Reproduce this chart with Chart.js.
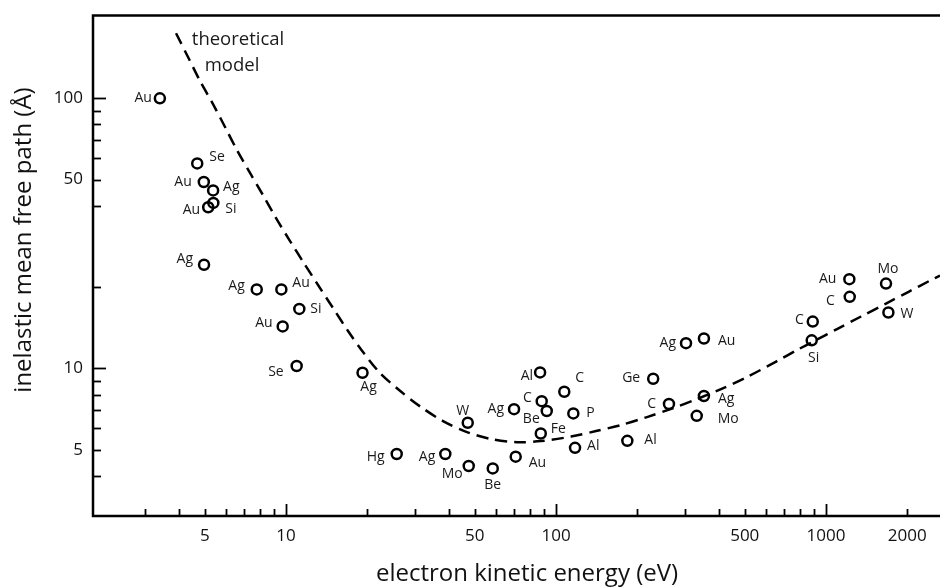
<!DOCTYPE html>
<html>
<head>
<meta charset="utf-8">
<title>Inelastic mean free path</title>
<script src="https://cdn.jsdelivr.net/npm/chart.js@4.4.1/dist/chart.umd.min.js"></script>
<style>
    html, body { margin: 0; padding: 0; background: #fff; }
    canvas { display: block; }
</style>
</head>
<body>
<canvas id="imfpChart" width="940" height="587"></canvas>
<script>
// ====== Measured points (energy in eV, IMFP in Å) ======
const elements = ["Au", "Se", "Au", "Ag", "Au", "Si", "Ag", "Ag", "Au", "Si",
    "Au", "Se", "Ag", "W", "Hg", "Ag", "Mo", "Be", "Au", "Ag",
    "Al", "C", "Be", "Fe", "C", "P", "Al", "Al", "Ge", "C",
    "Ag", "Au", "Ag", "Mo", "Au", "Mo", "C", "W", "C", "Si"];
const energy = [3.41, 4.69, 4.96, 5.37, 5.15, 5.38, 4.97, 7.79, 9.61, 11.2,
    9.72, 10.95, 19.2, 47.1, 25.7, 38.9, 47.5, 58.3, 70.9, 69.9,
    87.3, 88.5, 92.4, 87.8, 107.3, 115.9, 117.6, 183.7, 229, 262,
    303, 353, 353, 332, 1220, 1668, 1224, 1702, 893, 885];
const imfp = [100, 57.4, 49, 45.6, 39.5, 41, 24.2, 19.6, 19.6, 16.6,
    14.3, 10.2, 9.63, 6.29, 4.82, 4.82, 4.35, 4.26, 4.71, 7.06,
    9.66, 7.56, 6.95, 5.74, 8.19, 6.81, 5.08, 5.39, 9.15, 7.38,
    12.4, 12.9, 7.9, 6.67, 21.4, 20.6, 18.4, 16.1, 14.9, 12.7];

// ====== Theoretical model curve ======
const modelEnergy = [3.914, 4.335, 4.803, 5.366, 5.944, 6.584, 7.356, 8.219, 9.185, 10.35,
    11.66, 13.14, 14.93, 16.97, 19.28, 22.29, 26.22, 31.62, 38.15, 46.8,
    57.43, 71.7, 88.0, 113.7, 140.7, 174.1, 217.3, 268.9, 332.9, 408.4,
    505.5, 658.5, 774.4, 918.3, 1098, 1348, 1668, 2030, 2428, 2643];
const modelImfp = [174.1, 142.2, 115.9, 95.2, 78.3, 64.3, 52.9, 43.8, 36.0, 29.6,
    24.5, 20.35, 16.73, 13.75, 11.49, 9.61, 8.31, 7.19, 6.38, 5.81,
    5.47, 5.33, 5.38, 5.59, 5.86, 6.17, 6.60, 7.10, 7.70, 8.38,
    9.25, 10.64, 11.64, 12.73, 13.98, 15.56, 17.38, 19.25, 21.14, 22.07];

// ====== Axis ticks ======
const xTickValues = [3, 4, 5, 6, 7, 8, 9, 10, 20, 30, 40, 50, 60, 70, 80, 90,
    100, 200, 300, 400, 500, 600, 700, 800, 900, 1000, 2000];
const xTickLabels = [5, 10, 50, 100, 500, 1000, 2000];
const xMajorTicks = [10, 100, 1000];
const yTickValues = [4, 5, 6, 7, 8, 9, 10, 20, 40, 50, 60, 70, 80, 90, 100];
const yTickLabels = [5, 10, 50, 100];
const yMajorTicks = [10, 100];

const FONT = "'Open Sans', 'DejaVu Sans', sans-serif";

// label placement next to each circle: [dx, dy, align]
const labelPlacement = [
    [-8, 0, 'right'], [12, -6, 'left'], [-12, 0, 'right'], [10, -3, 'left'], [-8, 3, 'right'],
    [12, 6, 'left'], [-11, -6, 'right'], [-12, -3, 'right'], [11, -6, 'left'], [11, 0, 'left'],
    [-10, -3, 'right'], [-13, 6, 'right'], [6, 14, 'center'], [-5, -12, 'center'], [-12, 3, 'right'],
    [-10, 3, 'right'], [-6, 8, 'right'], [0, 17, 'center'], [13, 6, 'left'], [-10, 0, 'right'],
    [-7, 4, 'right'], [-10, -3, 'right'], [-7, 8, 'right'], [10, -4, 'left'], [11, -14, 'left'],
    [13, 0, 'left'], [12, -2, 'left'], [17, -1, 'left'], [-13, -1, 'right'], [-13, 0, 'right'],
    [-10, 0, 'right'], [14, 3, 'left'], [14, 3, 'left'], [21, 3, 'left'], [-13, 0, 'right'],
    [2, -15, 'center'], [-15, 4, 'right'], [12, 2, 'left'], [-9, -2, 'right'], [2, 18, 'center']
];

// ---- Frame, inward ticks and axis titles ----
const framePlugin = {
    id: 'frame',
    afterDraw(chart) {
        const {ctx, chartArea: a, scales: {x, y}} = chart;
        ctx.save();
        ctx.strokeStyle = '#000';
        ctx.lineWidth = 2.5;
        ctx.beginPath();
        ctx.moveTo(chart.width, a.top);
        ctx.lineTo(a.left, a.top);
        ctx.lineTo(a.left, a.bottom);
        ctx.lineTo(chart.width, a.bottom);
        ctx.stroke();

        ctx.lineWidth = 1.8;
        xTickValues.forEach(v => {
            const px = Math.round(x.getPixelForValue(v)) + 0.5;
            const len = xMajorTicks.includes(v) ? 12 : 7;
            ctx.beginPath();
            ctx.moveTo(px, a.bottom);
            ctx.lineTo(px, a.bottom - len);
            ctx.stroke();
        });
        yTickValues.forEach(v => {
            const py = Math.round(y.getPixelForValue(v)) + 0.5;
            const len = yMajorTicks.includes(v) ? 13 : 8;
            ctx.beginPath();
            ctx.moveTo(a.left, py);
            ctx.lineTo(a.left + len, py);
            ctx.stroke();
        });

        ctx.fillStyle = '#111';
        ctx.font = '24px ' + FONT;
        ctx.textAlign = 'center';
        ctx.textBaseline = 'middle';
        ctx.fillText('electron kinetic energy (eV)', 527, 574);
        ctx.translate(24, 240);
        ctx.rotate(-Math.PI / 2);
        ctx.fillText('inelastic mean free path (Å)', 0, 0);
        ctx.restore();
    }
};

// ---- Element labels and model caption ----
const labelPlugin = {
    id: 'pointLabels',
    afterDatasetsDraw(chart) {
        const {ctx} = chart;
        const meta = chart.getDatasetMeta(1);
        ctx.save();
        ctx.fillStyle = '#1a1a1a';
        ctx.font = '14px ' + FONT;
        ctx.textBaseline = 'middle';
        meta.data.forEach((pt, i) => {
            const p = labelPlacement[i];
            ctx.textAlign = p[2];
            ctx.fillText(elements[i], pt.x + p[0], pt.y + p[1]);
        });
        // caption next to the top of the model curve
        const m = chart.getDatasetMeta(0).data[0];
        ctx.font = '18.5px ' + FONT;
        ctx.textAlign = 'center';
        ctx.fillText('theoretical', m.x + 62, m.y + 6);
        ctx.fillText('model', m.x + 56, m.y + 32);
        ctx.restore();
    }
};

const ctx = document.getElementById('imfpChart').getContext('2d');
window.imfpChart = new Chart(ctx, {
    type: 'scatter',
    data: {
        datasets: [{
                type: 'line',
                label: 'theoretical model',
                data: modelEnergy.map((e, i) => ({x: e, y: modelImfp[i]})),
                borderColor: '#000',
                borderWidth: 2.5,
                borderDash: [12, 7],
                pointRadius: 0,
                fill: false,
                tension: 0.3
            }, {
                label: 'measured',
                data: energy.map((e, i) => ({x: e, y: imfp[i]})),
                pointRadius: 5,
                pointBorderWidth: 2.5,
                pointBorderColor: '#000',
                pointBackgroundColor: 'rgba(255,255,255,0)'
            }]
    },
    options: {
        responsive: false,
        animation: false,
        layout: {autoPadding: false, padding: {top: 15.5, right: 0, left: 0, bottom: 0}},
        plugins: {
            legend: {display: false},
            tooltip: {enabled: false}
        },
        scales: {
            x: {
                type: 'logarithmic',
                min: 1.928,
                max: 2643,
                afterFit: s => { s.height = 71; s.paddingLeft = 0; s.paddingRight = 0; },
                afterBuildTicks: s => { s.ticks = xTickValues.map(v => ({value: v})); },
                grid: {display: false, drawTicks: false},
                border: {display: false},
                ticks: {
                    autoSkip: false,
                    maxRotation: 0,
                    padding: 10,
                    color: '#111',
                    font: {family: FONT, size: 17},
                    callback: v => xTickLabels.includes(v) ? String(v) : ''
                }
            },
            y: {
                type: 'logarithmic',
                min: 2.84,
                max: 202.6,
                afterFit: s => { s.width = 93; s.paddingTop = 0; s.paddingBottom = 0; },
                afterBuildTicks: s => { s.ticks = yTickValues.map(v => ({value: v})); },
                grid: {display: false, drawTicks: false},
                border: {display: false},
                ticks: {
                    autoSkip: false,
                    padding: 10,
                    color: '#111',
                    font: {family: FONT, size: 17},
                    callback: v => yTickLabels.includes(v) ? String(v) : ''
                }
            }
        }
    },
    plugins: [framePlugin, labelPlugin]
});
</script>
</body>
</html>
